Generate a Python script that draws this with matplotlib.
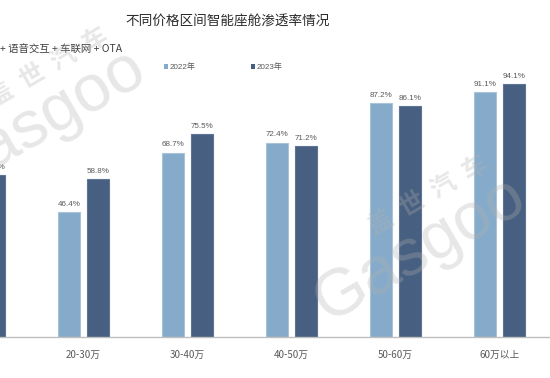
import matplotlib
matplotlib.use("Agg")
import matplotlib.pyplot as plt
from matplotlib.patches import Patch
import numpy as np

plt.rcParams['font.family'] = ['Liberation Sans', 'Noto Sans CJK SC', 'DejaVu Sans']

categories = ["10-20万", "20-30万", "30-40万", "40-50万", "50-60万", "60万以上"]
years = ["2022年", "2023年"]
v2022 = [47.5, 46.4, 68.7, 72.4, 87.2, 91.1]
v2023 = [60.3, 58.8, 75.5, 71.2, 86.1, 94.1]
title = "不同价格区间智能座舱渗透率情况"
subtitle = "+ 语音交互 + 车联网 + OTA"

c2022 = "#86abca"
c2023 = "#475f80"
e2022 = "#a9c3da"
e2023 = "#5d7495"

W, H = 550, 378
fig = plt.figure(figsize=(W / 100, H / 100), dpi=100)
ax_left_px = -72.5
ax_w_px = 624
base_px = 337
top_px = 337 - 268.5
ax = fig.add_axes([ax_left_px / W, (H - base_px) / H, ax_w_px / W, (base_px - top_px) / H])

x = np.arange(len(categories))
bw = 0.21
off = 0.139
b1 = ax.bar(x - off, v2022, bw, color=c2022, edgecolor=e2022, linewidth=0.8, zorder=2)
b2 = ax.bar(x + off, v2023, bw, color=c2023, edgecolor=e2023, linewidth=0.8, zorder=2)

for bars, vals in ((b1, v2022), (b2, v2023)):
    for r, v in zip(bars, vals):
        ax.annotate(f"{v:.1f}%", (r.get_x() + r.get_width() / 2, v),
                    xytext=(0, 3), textcoords="offset points", ha="center", va="bottom",
                    fontsize=5.8, color="#595959", family=['Liberation Sans'])

ax.set_xlim(-0.5, len(categories) - 0.5)
ax.set_ylim(0, 100)
ax.set_xticks(x)
ax.set_xticklabels(categories, fontsize=7, color="#595959", family=['Noto Sans CJK SC', 'DejaVu Sans'])
ax.tick_params(axis='x', length=0, pad=9)
ax.set_yticks([])
for s in ("top", "right", "left"):
    ax.spines[s].set_visible(False)
ax.spines["bottom"].set_color("#bfbfbf")
ax.spines["bottom"].set_linewidth(1.0)
ax.patch.set_alpha(0)

fig.text(228 / W, 1 - 22 / H, title, ha="center", va="center", fontsize=9.8,
         color="#2b2b2b", family=['Noto Sans CJK SC', 'DejaVu Sans'])
fig.text(0, 1 - 50 / H, subtitle, ha="left", va="center", fontsize=7.5,
         color="#404040", family=['Noto Sans CJK SC', 'DejaVu Sans'])

handles = [Patch(facecolor=c2022), Patch(facecolor=c2023)]
leg = fig.legend(handles, years, loc="center left", bbox_to_anchor=(164 / W, 1 - 67 / H),
                 ncol=2, frameon=False, fontsize=5.8, handlelength=0.55, handleheight=0.55,
                 handletextpad=0.2, columnspacing=6.8, borderpad=0, borderaxespad=0)
for t in leg.get_texts():
    t.set_color("#595959")

# watermarks
wm = dict(color="#b0b0b0", alpha=0.3, ha="center", va="center", zorder=5)
fig.text(428 / W, 1 - 196 / H, "盖  世  汽  车", rotation=30, fontsize=18, fontweight="bold",
         family=['Noto Sans CJK SC'], **wm)
fig.text(420 / W, 1 - 250 / H, "Gasgoo", rotation=30, fontsize=48,
         family=['Liberation Sans'], **wm)
fig.text(48 / W, 1 - 68 / H, "盖  世  汽  车", rotation=30, fontsize=18, fontweight="bold",
         family=['Noto Sans CJK SC'], **wm)
fig.text(40 / W, 1 - 122 / H, "Gasgoo", rotation=30, fontsize=48,
         family=['Liberation Sans'], **wm)

fig.savefig("out.png", dpi=100)
